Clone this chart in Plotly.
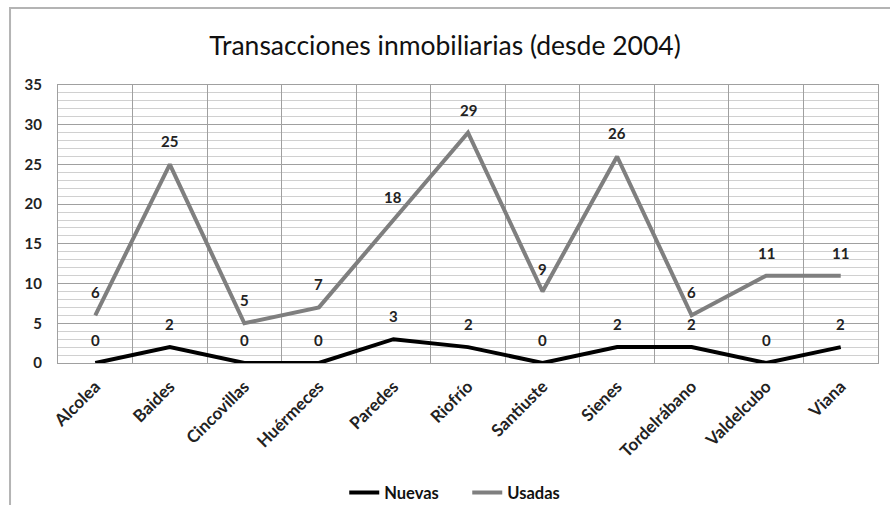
import plotly.graph_objects as go

# datos de la figura
pueblos = ["Alcolea", "Baides", "Cincovillas", "Huérmeces", "Paredes", "Riofrío",
           "Santiuste", "Sienes", "Tordelrábano", "Valdelcubo", "Viana"]
nuevas = [0, 2, 0, 0, 3, 2, 0, 2, 2, 0, 2]
usadas = [6, 25, 5, 7, 18, 29, 9, 26, 6, 11, 11]

fuente = "Lato"
txt = dict(family=fuente, size=15, color="#222", weight="bold")

fig = go.Figure()
fig.add_trace(go.Scatter(x=pueblos, y=nuevas, name="Nuevas", mode="lines",
                         line=dict(color="black", width=4)))
fig.add_trace(go.Scatter(x=pueblos, y=usadas, name="Usadas", mode="lines",
                         line=dict(color="#7f7f7f", width=4)))

# etiquetas de datos
for serie in (usadas, nuevas):
    for p, v in zip(pueblos, serie):
        fig.add_annotation(x=p, y=v, text=str(v), showarrow=False, yshift=23, font=txt)

# borde exterior del grafico
fig.add_shape(type="rect", xref="paper", yref="paper",
              x0=-0.0585, x1=1.05, y0=-0.7, y1=1.277,
              line=dict(color="#b4b4b4", width=2), fillcolor="rgba(0,0,0,0)")

fig.update_layout(
    width=890, height=505,
    margin=dict(l=58, r=12, t=85, b=142),
    paper_bgcolor="white", plot_bgcolor="white",
    font=dict(family=fuente, color="#222"),
    title=dict(text="Transacciones inmobiliarias (desde 2004)", x=0.5, xanchor="center",
               yref="container", y=0.91, yanchor="middle",
               font=dict(family=fuente, size=26.5, color="#111")),
    showlegend=True,
    # leyenda en coordenadas del contenedor para que no empuje el margen
    legend=dict(orientation="h", xref="container", x=0.525, xanchor="center",
                yref="container", y=0.024, yanchor="middle",
                entrywidth=78, entrywidthmode="pixels",
                font=dict(family=fuente, size=16.5, color="#111", weight="bold")),
)
fig.update_xaxes(type="category", range=[-0.5, 10.5], tickson="boundaries",
                 showgrid=True, gridcolor="#a0a0a0", gridwidth=1, automargin=False,
                 ticks="", tickangle=-45, tickfont=dict(txt, size=17), ticklabelstandoff=6,
                 showline=True, linecolor="#a0a0a0", mirror=True, zeroline=False)
fig.update_yaxes(range=[0, 35], dtick=5, showgrid=True, gridcolor="#a0a0a0", gridwidth=1,
                 minor=dict(dtick=1, showgrid=True, gridcolor="#d0d0d0", gridwidth=1),
                 tickfont=txt, ticklabelstandoff=12, automargin=False,
                 showline=True, linecolor="#a0a0a0", mirror=True, zeroline=False)

# quitar el margen por defecto del body
fig.write_html("out.html", config={"displayModeBar": False},
               post_script="document.body.style.margin='0';")
